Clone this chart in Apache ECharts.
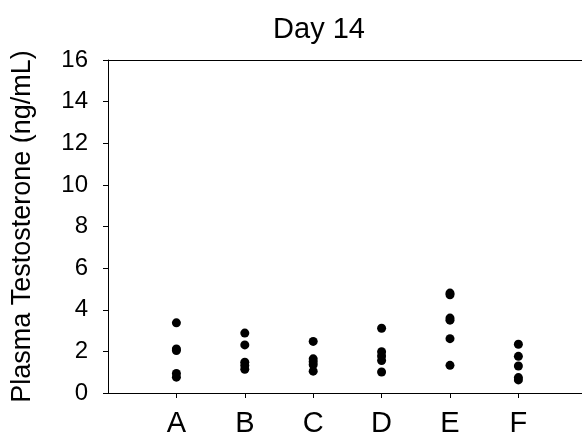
<!DOCTYPE html>
<html>
<head>
<meta charset="utf-8">
<script src="https://cdn.jsdelivr.net/npm/echarts@6/dist/echarts.min.js"></script>
<style>
  html, body { margin: 0; padding: 0; background: #fff; }
  #chart { width: 582px; height: 438px; }
</style>
</head>
<body>
<div id="chart"></div>
<script>
// Groups along the x axis and their plotted positions
const groups = ['A', 'B', 'C', 'D', 'E', 'F'];
const groupPos = [1, 2, 3, 4, 5, 6];

// Individual plasma testosterone values (ng/mL) per group
const valuesA = [3.37, 2.12, 2.04, 0.94, 0.76];
const valuesB = [2.88, 2.31, 1.48, 1.32, 1.14];
const valuesC = [2.48, 1.64, 1.50, 1.36, 1.05];
const valuesD = [3.11, 1.98, 1.78, 1.56, 1.01];
const valuesE = [4.80, 4.72, 3.60, 3.50, 2.61, 1.33];
const valuesF = [2.34, 1.76, 1.30, 0.74, 0.63];

// Y axis ticks
const yTicks = [0, 2, 4, 6, 8, 10, 12, 14, 16];

const groupValues = [valuesA, valuesB, valuesC, valuesD, valuesE, valuesF];
const points = [];
groupValues.forEach((vals, i) => {
  vals.forEach(v => points.push([groupPos[i], v]));
});

const font = 'Liberation Sans, Arial, sans-serif';
const ink = '#000';
const xMax = 6.93;

const chart = echarts.init(document.getElementById('chart'), null, { renderer: 'canvas' });
chart.setOption({
  animation: false,
  backgroundColor: '#fff',
  title: {
    text: 'Day 14',
    left: 314,
    top: 10,
    textAlign: 'center',
    textStyle: { fontFamily: font, fontSize: 29, fontWeight: 'normal', color: ink }
  },
  // the plot runs to the right edge; only left, top and bottom lines are drawn
  grid: { left: 108, top: 60, right: 0, bottom: 44, show: false },
  xAxis: [{
    type: 'value',
    min: 0, max: xMax,
    splitLine: { show: false },
    axisLine: { show: true, onZero: false, lineStyle: { color: ink, width: 1 } },
    axisTick: { show: true, length: 5, customValues: groupPos, lineStyle: { color: ink } },
    axisLabel: {
      customValues: groupPos,
      formatter: v => groups[groupPos.indexOf(v)] || '',
      fontFamily: font, fontSize: 29, color: ink, margin: 16
    }
  }, {
    // top frame line
    type: 'value',
    position: 'top',
    min: 0, max: xMax,
    splitLine: { show: false },
    axisLine: { show: true, onZero: false, lineStyle: { color: ink, width: 1 } },
    axisTick: { show: false },
    axisLabel: { show: false }
  }],
  yAxis: {
    type: 'value',
    min: yTicks[0], max: yTicks[yTicks.length - 1], interval: 2,
    name: 'Plasma Testosterone (ng/mL)',
    nameLocation: 'middle',
    nameGap: 72,
    nameTextStyle: { fontFamily: font, fontSize: 27, color: ink },
    splitLine: { show: false },
    axisLine: { show: true, lineStyle: { color: ink, width: 1 } },
    axisTick: { show: true, length: 5, lineStyle: { color: ink } },
    axisLabel: { fontFamily: font, fontSize: 24, color: ink, margin: 20 }
  },
  series: [{
    type: 'scatter',
    xAxisIndex: 0,
    data: points,
    symbol: 'circle',
    symbolSize: 9,
    itemStyle: { color: '#000', opacity: 1 }
  }]
});
</script>
</body>
</html>
